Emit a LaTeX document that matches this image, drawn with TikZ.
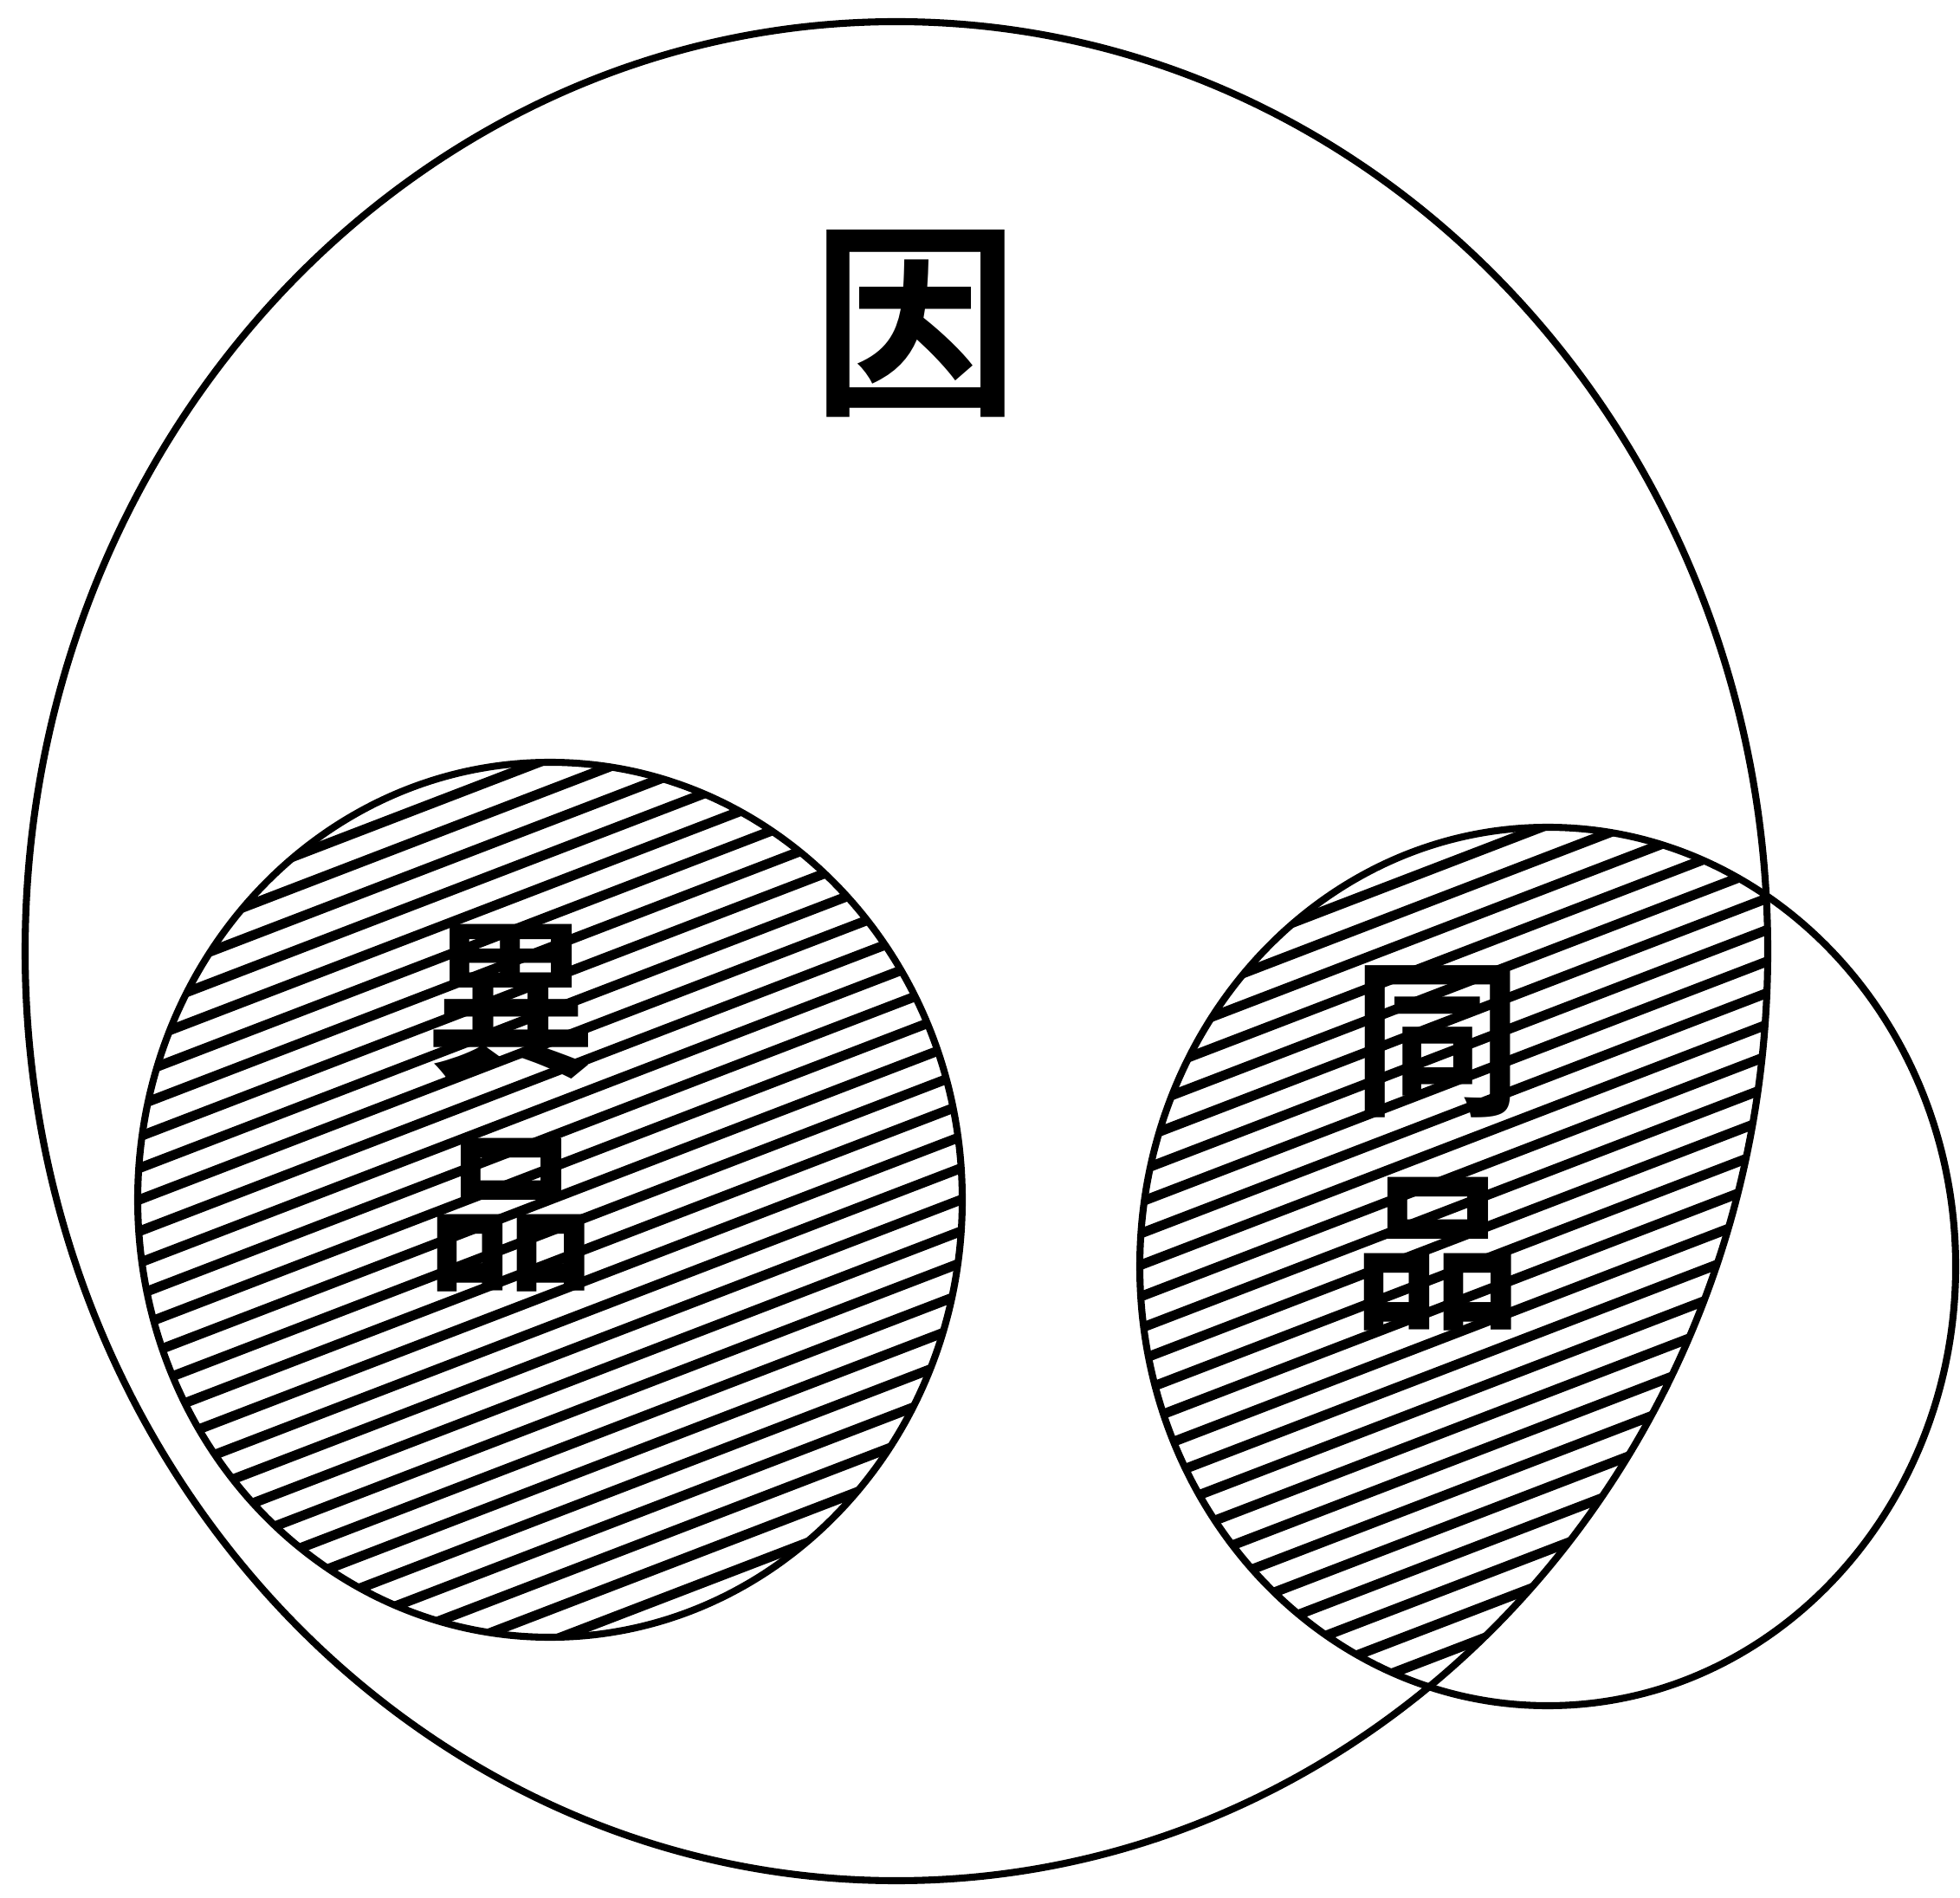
\documentclass[tikz,border=0pt]{standalone}
\usepackage{fontspec}
\newfontfamily\cjk[BoldFont={* Bold}]{Noto Sans CJK TC}
\usetikzlibrary{calc}

\begin{document}
\begin{tikzpicture}[
    rim/.style={line width=2.3pt},
    hatchline/.style={line width=3.2pt},
    zi/.style={font=\cjk\bfseries\fontsize{56}{70}\selectfont, align=center, inner sep=0pt}
  ]
    \useasboundingbox (0,0) rectangle (22.63,21.90);
    \coordinate (yin) at (10.35,10.92);
    \coordinate (yipin) at (6.35,8.05);
    \coordinate (tongpin) at (17.87,7.28);

    % hatching of the two classes
    \begin{scope}
        \clip (yipin) ellipse [x radius=4.76, y radius=5.05];
        \begin{scope}[shift={(yipin)}, rotate=21]
            \foreach \k in {-17,...,17}
                \draw[hatchline] (-7,\k*0.34) -- (7,\k*0.34);
        \end{scope}
    \end{scope}
    \begin{scope}
        \clip (tongpin) ellipse [x radius=4.71, y radius=5.07];
        \clip (yin) ellipse [x radius=10.06, y radius=10.73];
        \begin{scope}[shift={(tongpin)}, rotate=21]
            \foreach \k in {-17,...,17}
                \draw[hatchline] (-7,\k*0.34) -- (7,\k*0.34);
        \end{scope}
    \end{scope}

    % outlines
    \draw[rim] (yin) ellipse [x radius=10.06, y radius=10.73];
    \draw[rim] (yipin) ellipse [x radius=4.76, y radius=5.05];
    \draw[rim] (tongpin) ellipse [x radius=4.71, y radius=5.07];

    \node[zi, font=\cjk\bfseries\fontsize{68}{70}\selectfont] (yinlabel) at (10.57,18.16) {因};
    \node[zi] (yipinlabel) at (5.90,9.11) {異\\品};
    \node[zi] (tongpinlabel) at (16.60,8.65) {同\\品};
\end{tikzpicture}
\end{document}
